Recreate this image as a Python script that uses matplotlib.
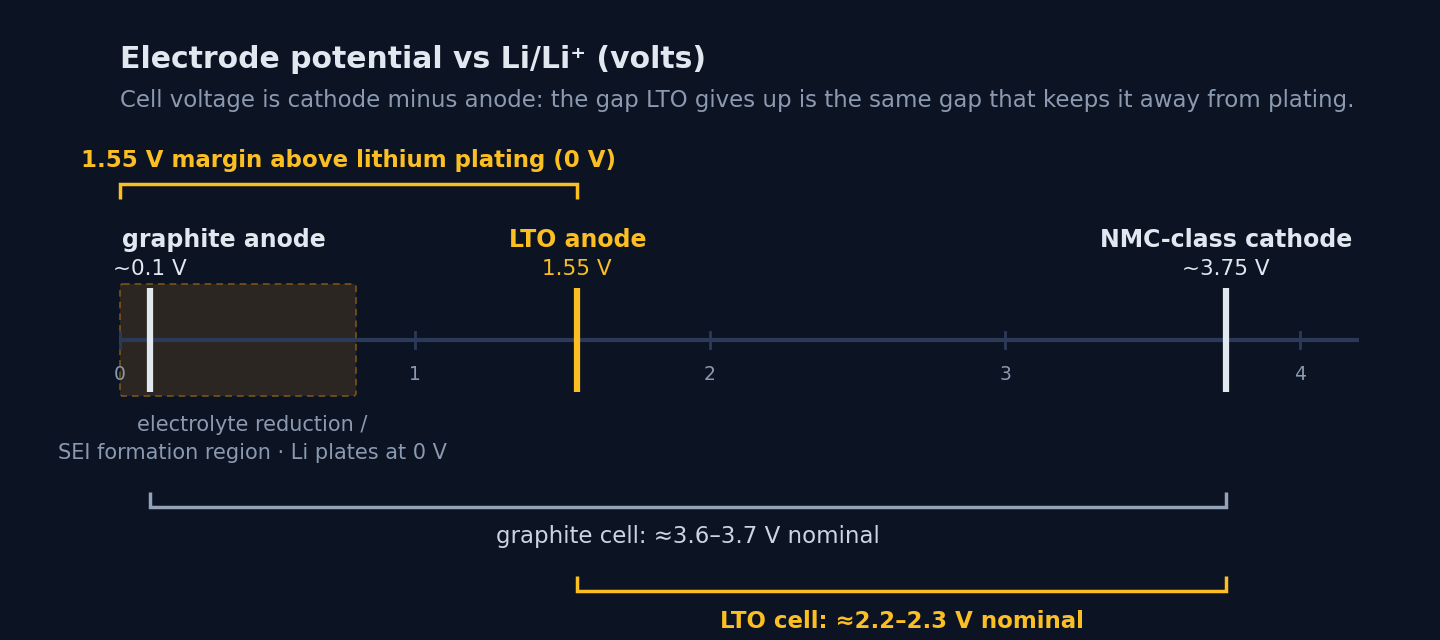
import matplotlib.pyplot as plt
from matplotlib.patches import FancyBboxPatch

# electrode potentials vs Li/Li+ (V)
electrodes = ["graphite anode", "LTO anode", "NMC-class cathode"]
potentials = [0.1, 1.55, 3.75]
pot_labels = ["~0.1 V", "1.55 V", "~3.75 V"]
ticks = [0, 1, 2, 3, 4]
sei_region = [0.0, 0.8]

BG = "#0c1322"
WHITE = "#e2e8f0"
GOLD = "#fbbf24"
MUTED = "#8b9ab0"
AXIS = "#2c3a5a"

fig = plt.figure(figsize=(14.4, 6.4), dpi=100, facecolor=BG)
ax = fig.add_axes([0, 0, 1, 1])
ax.set_facecolor(BG)
# x in volts (0 V at 120 px, 295 px per volt), y in pixels from the top
ax.set_xlim(-120 / 295, 1320 / 295)
ax.set_ylim(640, 0)
ax.axis("off")

fig.text(120 / 1440, 1 - 59 / 640, "Electrode potential vs Li/Li⁺ (volts)",
         color=WHITE, fontsize=21.5, fontweight="bold", va="center")
fig.text(120 / 1440, 1 - 101 / 640,
         "Cell voltage is cathode minus anode: the gap LTO gives up is the same gap that keeps it away from plating.",
         color=MUTED, fontsize=16.5, va="center")

# SEI shaded region
ax.add_patch(FancyBboxPatch((sei_region[0], 284), sei_region[1] - sei_region[0], 112,
                            boxstyle="round,pad=0,rounding_size=0.01",
                            facecolor="#2b2622", edgecolor="#7a5518",
                            linestyle=(0, (4, 3)), linewidth=1.2, zorder=1,
                            mutation_aspect=300))

# axis line and ticks
ax.plot([0, 4.2], [340, 340], color=AXIS, lw=3, zorder=2, solid_capstyle="butt")
for t in ticks:
    ax.plot([t, t], [332, 348], color=AXIS, lw=2, zorder=2)
    ax.text(t, 374, str(t), color=MUTED, fontsize=13.5, ha="center", va="center")

# electrode markers
colors = [WHITE, GOLD, WHITE]
for v, name, lab, c in zip(potentials, electrodes, pot_labels, colors):
    ax.plot([v, v], [288, 392], color=c, lw=4.5, zorder=3, solid_capstyle="butt")
    ax.text(v, 269, lab, color=c, fontsize=15.5, ha="center", va="center")
    if name == "graphite anode":
        ax.text(0.007, 240, name, color=c, fontsize=17, fontweight="bold", ha="left", va="center")
    else:
        ax.text(v, 240, name, color=c, fontsize=17, fontweight="bold", ha="center", va="center")

ax.text(0.4475, 439, "electrolyte reduction /\nSEI formation region · Li plates at 0 V",
        color=MUTED, fontsize=15, ha="center", va="center", linespacing=1.52)


def bracket(x0, x1, y, tip, color, lw=2.5):
    ax.plot([x0, x0, x1, x1], [tip, y, y, tip], color=color, lw=lw,
            solid_joinstyle="miter", solid_capstyle="butt")


# plating margin bracket
bracket(0, potentials[1], 184, 199, GOLD)
ax.text(potentials[1] / 2, 161, "1.55 V margin above lithium plating (0 V)",
        color=GOLD, fontsize=16.5, fontweight="bold", ha="center", va="center")

# cell voltage brackets
bracket(potentials[0], potentials[2], 507, 492, "#94a3b8")
ax.text((potentials[0] + potentials[2]) / 2, 537, "graphite cell: ≈3.6–3.7 V nominal",
        color="#cbd5e1", fontsize=16.5, ha="center", va="center")
bracket(potentials[1], potentials[2], 591, 576, GOLD)
ax.text((potentials[1] + potentials[2]) / 2, 621, "LTO cell: ≈2.2–2.3 V nominal",
        color=GOLD, fontsize=16.5, fontweight="bold", ha="center", va="center")

fig.savefig("out.png", dpi=100, facecolor=BG)
